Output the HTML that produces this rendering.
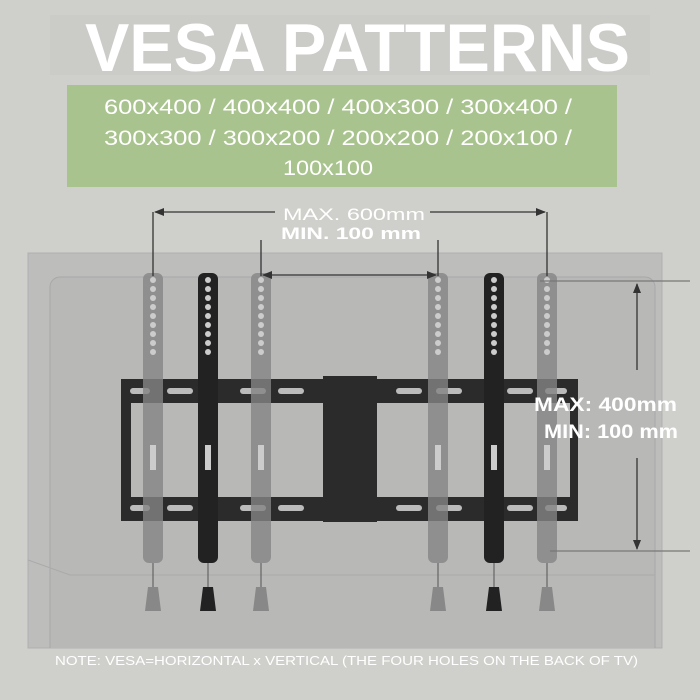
<!DOCTYPE html>
<html><head><meta charset="utf-8"><style>html,body{margin:0;padding:0;background:#cfcfcc}svg{display:block}</style></head>
<body>
<svg width="700" height="700" viewBox="0 0 700 700" xmlns="http://www.w3.org/2000/svg" font-family="Liberation Sans, sans-serif">
<defs>
<marker id="ah" markerWidth="10" markerHeight="8" refX="9" refY="4" orient="auto" markerUnits="userSpaceOnUse"><path d="M0,0 L10,4 L0,8 z" fill="#333"/></marker>
<clipPath id="tv"><rect x="28" y="253" width="634" height="395"/></clipPath>
</defs>
<rect width="700" height="700" fill="#cfcfcb"/>
<rect x="50" y="15" width="600" height="60" fill="#cbcbc8"/>
<text x="85" y="71" font-size="68" font-weight="bold" fill="#fff" textLength="545" lengthAdjust="spacingAndGlyphs">VESA PATTERNS</text>
<rect x="67" y="85" width="550" height="102" fill="#a9c38e"/>
<g fill="#fff" font-size="21">
<text x="104" y="114" textLength="468" lengthAdjust="spacingAndGlyphs">600x400 / 400x400 / 400x300 / 300x400 /</text>
<text x="104" y="145" textLength="468" lengthAdjust="spacingAndGlyphs">300x300 / 300x200 / 200x200 / 200x100 /</text>
<text x="283" y="175" textLength="90" lengthAdjust="spacingAndGlyphs">100x100</text>
</g>
<!-- TV -->
<rect x="28" y="253" width="634" height="395" fill="#bdbdbc" stroke="#b0b0b0"/>
<g clip-path="url(#tv)">
<rect x="50" y="277" width="605" height="390" rx="10" fill="#b8b8b7" stroke="#a8a8a8"/>
<path d="M28 560 L70 575 L655 575" stroke="#aaa" fill="none"/>
</g>
<!-- bracket -->
<g fill="#2b2b2b">
<rect x="121" y="379" width="457" height="24"/>
<rect x="121" y="497" width="457" height="24"/>
<rect x="121" y="379" width="10" height="142"/>
<rect x="570" y="379" width="8" height="142"/>
<rect x="323" y="376" width="54" height="146"/>
</g>
<g fill="#bbb">
<rect x="130" y="388" width="20" height="6" rx="3"/><rect x="167" y="388" width="26" height="6" rx="3"/><rect x="240" y="388" width="26" height="6" rx="3"/><rect x="278" y="388" width="26" height="6" rx="3"/>
<rect x="396" y="388" width="26" height="6" rx="3"/><rect x="436" y="388" width="26" height="6" rx="3"/><rect x="507" y="388" width="26" height="6" rx="3"/><rect x="545" y="388" width="22" height="6" rx="3"/>
<rect x="130" y="505" width="20" height="6" rx="3"/><rect x="167" y="505" width="26" height="6" rx="3"/><rect x="240" y="505" width="26" height="6" rx="3"/><rect x="278" y="505" width="26" height="6" rx="3"/>
<rect x="396" y="505" width="26" height="6" rx="3"/><rect x="436" y="505" width="26" height="6" rx="3"/><rect x="507" y="505" width="26" height="6" rx="3"/><rect x="545" y="505" width="22" height="6" rx="3"/>
</g>
<!-- arms -->
<g fill="#858585" fill-opacity="0.8">
<rect x="143" y="273" width="20" height="290" rx="6"/>
<rect x="251" y="273" width="20" height="290" rx="6"/>
<rect x="428" y="273" width="20" height="290" rx="6"/>
<rect x="537" y="273" width="20" height="290" rx="6"/>
</g>
<g fill="#222">
<rect x="198" y="273" width="20" height="290" rx="6"/>
<rect x="484" y="273" width="20" height="290" rx="6"/>
</g>
<g fill="#ccc">
<circle cx="153" cy="280" r="3"/><circle cx="153" cy="289" r="3"/><circle cx="153" cy="298" r="3"/><circle cx="153" cy="307" r="3"/><circle cx="153" cy="316" r="3"/><circle cx="153" cy="325" r="3"/><circle cx="153" cy="334" r="3"/><circle cx="153" cy="343" r="3"/><circle cx="153" cy="352" r="3"/>
<circle cx="261" cy="280" r="3"/><circle cx="261" cy="289" r="3"/><circle cx="261" cy="298" r="3"/><circle cx="261" cy="307" r="3"/><circle cx="261" cy="316" r="3"/><circle cx="261" cy="325" r="3"/><circle cx="261" cy="334" r="3"/><circle cx="261" cy="343" r="3"/><circle cx="261" cy="352" r="3"/>
<circle cx="208" cy="280" r="3"/><circle cx="208" cy="289" r="3"/><circle cx="208" cy="298" r="3"/><circle cx="208" cy="307" r="3"/><circle cx="208" cy="316" r="3"/><circle cx="208" cy="325" r="3"/><circle cx="208" cy="334" r="3"/><circle cx="208" cy="343" r="3"/><circle cx="208" cy="352" r="3"/>
<circle cx="438" cy="280" r="3"/><circle cx="438" cy="289" r="3"/><circle cx="438" cy="298" r="3"/><circle cx="438" cy="307" r="3"/><circle cx="438" cy="316" r="3"/><circle cx="438" cy="325" r="3"/><circle cx="438" cy="334" r="3"/><circle cx="438" cy="343" r="3"/><circle cx="438" cy="352" r="3"/>
<circle cx="494" cy="280" r="3"/><circle cx="494" cy="289" r="3"/><circle cx="494" cy="298" r="3"/><circle cx="494" cy="307" r="3"/><circle cx="494" cy="316" r="3"/><circle cx="494" cy="325" r="3"/><circle cx="494" cy="334" r="3"/><circle cx="494" cy="343" r="3"/><circle cx="494" cy="352" r="3"/>
<circle cx="547" cy="280" r="3"/><circle cx="547" cy="289" r="3"/><circle cx="547" cy="298" r="3"/><circle cx="547" cy="307" r="3"/><circle cx="547" cy="316" r="3"/><circle cx="547" cy="325" r="3"/><circle cx="547" cy="334" r="3"/><circle cx="547" cy="343" r="3"/><circle cx="547" cy="352" r="3"/>
<rect x="150" y="445" width="6" height="25"/><rect x="258" y="445" width="6" height="25"/><rect x="205" y="445" width="6" height="25"/><rect x="435" y="445" width="6" height="25"/><rect x="491" y="445" width="6" height="25"/><rect x="544" y="445" width="6" height="25"/>
</g>
<!-- weights -->
<g fill="#888">
<path d="M148 587 h10 l3 24 h-16 z"/><path d="M256 587 h10 l3 24 h-16 z"/><path d="M433 587 h10 l3 24 h-16 z"/><path d="M542 587 h10 l3 24 h-16 z"/>
</g>
<g fill="#222"><path d="M203 587 h10 l3 24 h-16 z"/><path d="M489 587 h10 l3 24 h-16 z"/></g>
<g stroke="#555" stroke-width="1"><line x1="153" y1="563" x2="153" y2="587"/><line x1="208" y1="563" x2="208" y2="587"/><line x1="261" y1="563" x2="261" y2="587"/><line x1="438" y1="563" x2="438" y2="587"/><line x1="494" y1="563" x2="494" y2="587"/><line x1="547" y1="563" x2="547" y2="587"/></g>
<!-- dimensions -->
<g stroke="#333" stroke-width="1.3" fill="none">
<line x1="153" y1="212" x2="153" y2="276"/>
<line x1="547" y1="212" x2="547" y2="276"/>
<line x1="275" y1="212" x2="155" y2="212" marker-end="url(#ah)"/>
<line x1="430" y1="212" x2="545" y2="212" marker-end="url(#ah)"/>
<line x1="261" y1="240" x2="261" y2="276"/>
<line x1="438" y1="240" x2="438" y2="276"/>
<line x1="350" y1="275" x2="263" y2="275" marker-end="url(#ah)"/>
<line x1="350" y1="275" x2="436" y2="275" marker-end="url(#ah)"/>
<line x1="540" y1="281" x2="690" y2="281" stroke="#777"/>
<line x1="550" y1="551" x2="690" y2="551" stroke="#777"/>
<line x1="637" y1="370" x2="637" y2="284" marker-end="url(#ah)"/>
<line x1="637" y1="458" x2="637" y2="549" marker-end="url(#ah)"/>
</g>
<g fill="#fff">
<text x="283" y="220" font-size="17" textLength="142" lengthAdjust="spacingAndGlyphs">MAX. 600mm</text>
<text x="281" y="239" font-size="17" font-weight="bold" textLength="140" lengthAdjust="spacingAndGlyphs">MIN. 100 mm</text>
<text x="534" y="411" font-size="19" font-weight="bold" textLength="143" lengthAdjust="spacingAndGlyphs">MAX: 400mm</text>
<text x="544" y="438" font-size="19" font-weight="bold" textLength="134" lengthAdjust="spacingAndGlyphs">MIN: 100 mm</text>
<text x="55" y="665" font-size="13" textLength="583" lengthAdjust="spacingAndGlyphs">NOTE: VESA=HORIZONTAL x VERTICAL (THE FOUR HOLES ON THE BACK OF TV)</text>
</g>
</svg>
</body></html>
